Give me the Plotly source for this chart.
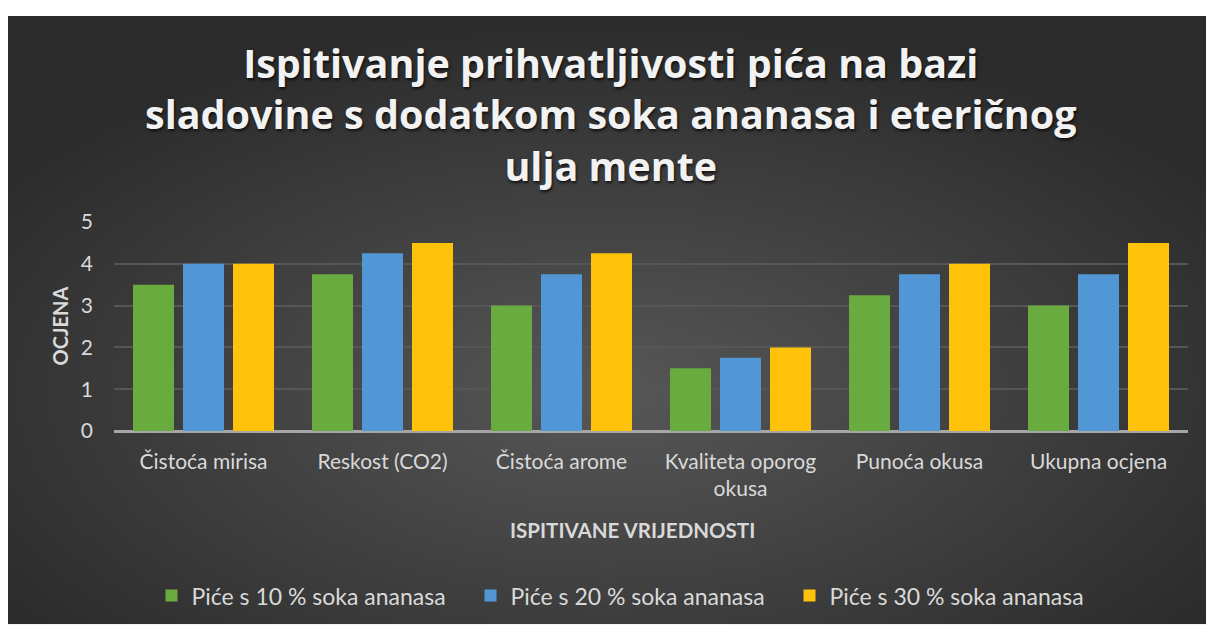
import base64
import plotly.graph_objects as go

categories = ["Čistoća mirisa", "Reskost (CO2)", "Čistoća arome",
              "Kvaliteta oporog<br>okusa", "Punoća okusa", "Ukupna ocjena"]
series_names = ["Piće s 10 % soka ananasa", "Piće s 20 % soka ananasa", "Piće s 30 % soka ananasa"]
values_10 = [3.5, 3.75, 3.0, 1.5, 3.25, 3.0]
values_20 = [4.0, 4.25, 3.75, 1.75, 3.75, 3.75]
values_30 = [4.0, 4.5, 4.25, 2.0, 4.0, 4.5]
y_ticks = [0, 1, 2, 3, 4, 5]
title_lines = ["Ispitivanje prihvatljivosti pića na bazi",
               "sladovine s dodatkom soka ananasa i eteričnog",
               "ulja mente"]
colors = ["#6aab40", "#5197d6", "#ffc20a"]

W, H = 1206, 630
L, T = 114, 222
R = W - 1188
B = H - 434
pw, ph = W - L - R, H - T - B

def px_x(p):
    return (p - L) / pw

def px_y(p):
    return (H - B - p) / ph

fig = go.Figure()
for name, vals, col in zip(series_names, [values_10, values_20, values_30], colors):
    fig.add_trace(go.Bar(x=categories, y=vals, name=name,
                         marker=dict(color=col, line=dict(width=0))))

svg = ('<svg xmlns="http://www.w3.org/2000/svg" width="1198" height="617" viewBox="0 0 1198 617">'
       '<defs><radialGradient id="g" cx="50%" cy="62%" r="62%" fx="50%" fy="62%">'
       '<stop offset="0%" stop-color="#575757"/><stop offset="100%" stop-color="#2b2b2b"/>'
       '</radialGradient></defs><rect width="1198" height="617" fill="url(#g)"/></svg>')
src = "data:image/svg+xml;base64," + base64.b64encode(svg.encode()).decode()

fig.add_layout_image(dict(source=src, xref="paper", yref="paper",
                          x=px_x(8), y=px_y(13), sizex=(W - 8) / pw, sizey=(H - 13) / ph,
                          xanchor="left", yanchor="top", sizing="stretch", layer="below"))

title_font = dict(family="Open Sans", size=39.5, color="#f2f2f2", weight="bold",
                  shadow="1px 2px 3px rgba(0,0,0,0.7)")
fig.add_annotation(text="<br>".join(title_lines), x=px_x(611), y=px_y(113), xref="paper", yref="paper",
                   showarrow=False, xanchor="center", yanchor="middle", align="center",
                   font=title_font)

fig.add_annotation(text="OCJENA", x=px_x(59), y=px_y(328), xref="paper", yref="paper",
                   textangle=-90, showarrow=False, xanchor="center", yanchor="middle",
                   font=dict(family="Lato", size=20, color="#d9d9d9", weight="bold"))
fig.add_annotation(text="ISPITIVANE VRIJEDNOSTI", x=px_x(632), y=px_y(534), xref="paper", yref="paper",
                   showarrow=False, xanchor="center", yanchor="middle",
                   font=dict(family="Lato", size=20.5, color="#d9d9d9", weight="bold"))

fig.update_layout(
    width=W, height=H,
    margin=dict(l=L, r=R, t=T, b=B, pad=0),
    paper_bgcolor="white",
    plot_bgcolor="rgba(0,0,0,0)",
    barmode="group", bargap=0.162, bargroupgap=0.18,
    showlegend=True,
    legend=dict(orientation="h", x=px_x(630), xanchor="center", y=px_y(601), yanchor="middle",
                font=dict(family="Lato", size=23, color="#d9d9d9"),
                bgcolor="rgba(0,0,0,0)", entrywidth=274, entrywidthmode="pixels",
                itemsizing="constant"),
    font=dict(family="Lato", color="#d9d9d9"),
)
fig.update_xaxes(showgrid=False, showline=False, ticks="", tickfont=dict(size=21, color="#d9d9d9"),
                 ticklabelstandoff=16)
fig.update_yaxes(range=[0, 5], tickvals=y_ticks, showgrid=True, gridcolor="#565656", gridwidth=2,
                 zeroline=True, zerolinecolor="#a6a6a6", zerolinewidth=3,
                 showline=False, ticks="", tickfont=dict(size=21, color="#d9d9d9"),
                 ticklabelstandoff=20)

fig.write_html("out.html", config={"displayModeBar": False},
               post_script="document.body.style.margin='0';document.body.style.overflow='hidden';")
